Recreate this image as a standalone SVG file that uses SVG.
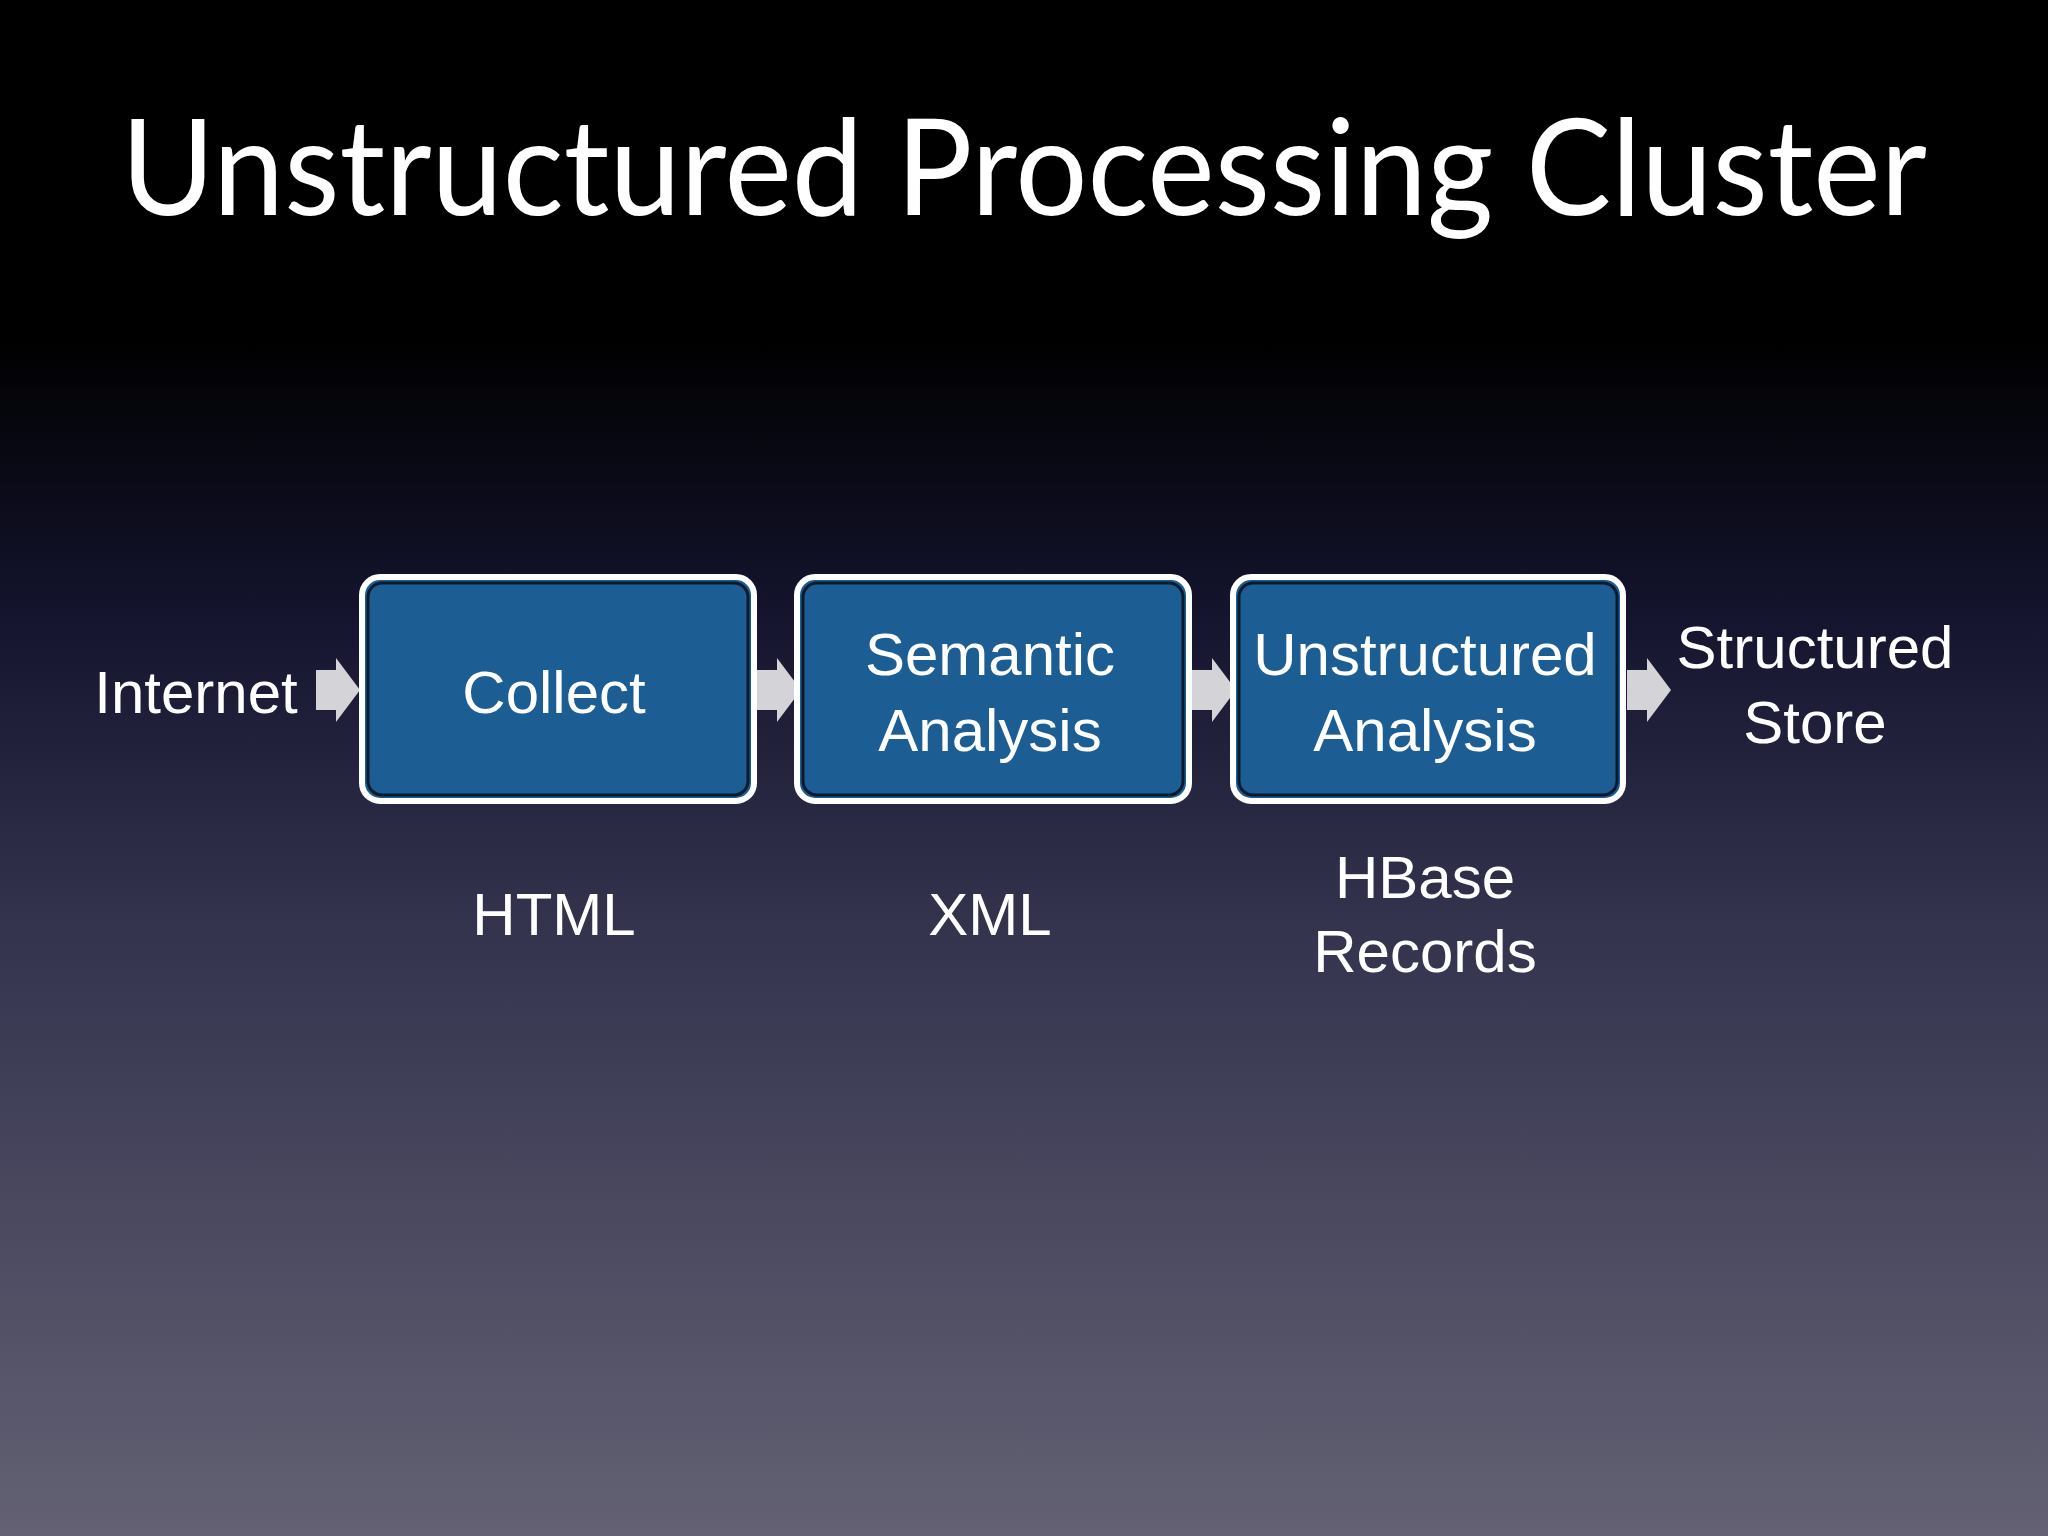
<svg xmlns="http://www.w3.org/2000/svg" width="2048" height="1536" viewBox="0 0 2048 1536">
<defs>
<linearGradient id="bg" x1="0" y1="0" x2="0" y2="1">
<stop offset="0" stop-color="#000000"/>
<stop offset="0.22" stop-color="#000000"/>
<stop offset="0.4" stop-color="#14142e"/>
<stop offset="0.6" stop-color="#33334e"/>
<stop offset="1" stop-color="#636173"/>
</linearGradient>
<path id="arr" d="M0,-20 L20,-20 L20,-32 L44,0 L20,32 L20,20 L0,20 Z" fill="#d4d4d8"/>
</defs>
<style>
.t{font-family:"Liberation Sans",Arial,sans-serif;font-size:60px;fill:#ffffff;text-anchor:middle}
.box{fill:#1c5e94;stroke:#ffffff;stroke-width:6}
.outer{fill:none;stroke:#0a1a2e;stroke-width:3}
</style>
<rect width="2048" height="1536" fill="url(#bg)"/>
<text x="1024" y="215" font-family="Lato, 'Open Sans', sans-serif" font-size="134" fill="#ffffff" text-anchor="middle" textLength="1806" lengthAdjust="spacingAndGlyphs">Unstructured Processing Cluster</text>
<g id="connectors">
<use href="#arr" x="316" y="690"/>
<use href="#arr" x="757" y="690"/>
<use href="#arr" x="1192" y="690"/>
<use href="#arr" x="1627" y="690"/>
</g>
<g id="internet"><text class="t" x="196" y="713">Internet</text></g>
<g id="collect">
<rect class="box" x="362" y="577" width="392" height="224" rx="18"/>
<rect class="outer" x="368" y="583" width="380" height="212" rx="14"/>
<text class="t" x="554" y="713">Collect</text>
</g>
<g id="semantic">
<rect class="box" x="797" y="577" width="392" height="224" rx="18"/>
<rect class="outer" x="803" y="583" width="380" height="212" rx="14"/>
<text class="t" x="990" y="675">Semantic</text>
<text class="t" x="990" y="751">Analysis</text>
</g>
<g id="unstructured">
<rect class="box" x="1233" y="577" width="390" height="224" rx="18"/>
<rect class="outer" x="1239" y="583" width="378" height="212" rx="14"/>
<text class="t" x="1425" y="675">Unstructured</text>
<text class="t" x="1425" y="751">Analysis</text>
</g>
<g id="store">
<text class="t" x="1815" y="668">Structured</text>
<text class="t" x="1815" y="743">Store</text>
</g>
<g id="html"><text class="t" x="554" y="935">HTML</text></g>
<g id="xml"><text class="t" x="990" y="935">XML</text></g>
<g id="hbase">
<text class="t" x="1425" y="898">HBase</text>
<text class="t" x="1425" y="972">Records</text>
</g>
</svg>
